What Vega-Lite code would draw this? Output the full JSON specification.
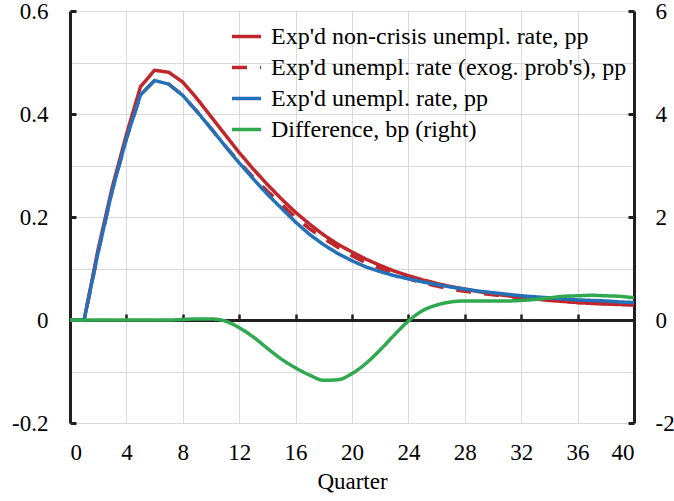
{
  "$schema": "https://vega.github.io/schema/vega-lite/v6.json",
  "width": 564,
  "height": 412,
  "autosize": {"type": "none"},
  "padding": {"left": 70, "top": 11, "right": 40, "bottom": 78},
  "background": "white",
  "config": {
    "font": "Liberation Serif",
    "view": {"stroke": null},
    "axis": {
      "labelFont": "Liberation Serif",
      "titleFont": "Liberation Serif",
      "labelColor": "#000000",
      "titleColor": "#000000",
      "labelFontSize": 23,
      "titleFontSize": 23,
      "titleFontWeight": "normal",
      "gridColor": "#d9d9d9",
      "gridWidth": 1,
      "domainColor": "#231f20",
      "tickColor": "#231f20"
    },
    "legend": {
      "orient": "none",
      "legendX": 160,
      "legendY": 9,
      "padding": 0,
      "title": null,
      "symbolType": "stroke",
      "symbolSize": 841,
      "symbolStrokeWidth": 3.5,
      "labelFont": "Liberation Serif",
      "labelFontSize": 24,
      "labelColor": "#000000",
      "labelOffset": 8,
      "labelLimit": 600,
      "rowPadding": 2
    }
  },
  "data": {
    "values": [
      {"q": 0, "nonCrisis": 0, "exog": 0, "expd": 0, "diff": 0},
      {"q": 1, "nonCrisis": 0, "exog": 0, "expd": 0, "diff": 0},
      {"q": 2, "nonCrisis": 0.138, "exog": 0.132, "expd": 0.132, "diff": 0},
      {"q": 3, "nonCrisis": 0.258, "exog": 0.252, "expd": 0.252, "diff": 0},
      {"q": 4, "nonCrisis": 0.36, "exog": 0.352, "expd": 0.352, "diff": 0},
      {"q": 5, "nonCrisis": 0.453, "exog": 0.437, "expd": 0.437, "diff": 0},
      {"q": 6, "nonCrisis": 0.485, "exog": 0.465, "expd": 0.465, "diff": 0},
      {"q": 7, "nonCrisis": 0.481, "exog": 0.458, "expd": 0.458, "diff": 0},
      {"q": 8, "nonCrisis": 0.462, "exog": 0.436, "expd": 0.436, "diff": 0.01},
      {"q": 9, "nonCrisis": 0.43, "exog": 0.405, "expd": 0.405, "diff": 0.02},
      {"q": 10, "nonCrisis": 0.395, "exog": 0.372, "expd": 0.372, "diff": 0.02},
      {"q": 11, "nonCrisis": 0.36, "exog": 0.338, "expd": 0.338, "diff": -0.02},
      {"q": 12, "nonCrisis": 0.325, "exog": 0.3065, "expd": 0.305, "diff": -0.15},
      {"q": 13, "nonCrisis": 0.293, "exog": 0.277, "expd": 0.274, "diff": -0.33},
      {"q": 14, "nonCrisis": 0.263, "exog": 0.25, "expd": 0.244, "diff": -0.55},
      {"q": 15, "nonCrisis": 0.235, "exog": 0.225, "expd": 0.217, "diff": -0.76},
      {"q": 16, "nonCrisis": 0.209, "exog": 0.199, "expd": 0.19, "diff": -0.93},
      {"q": 17, "nonCrisis": 0.186, "exog": 0.177, "expd": 0.166, "diff": -1.07},
      {"q": 18, "nonCrisis": 0.165, "exog": 0.158, "expd": 0.146, "diff": -1.17},
      {"q": 19, "nonCrisis": 0.147, "exog": 0.141, "expd": 0.129, "diff": -1.16},
      {"q": 20, "nonCrisis": 0.132, "exog": 0.125, "expd": 0.115, "diff": -1.04},
      {"q": 21, "nonCrisis": 0.118, "exog": 0.111, "expd": 0.103, "diff": -0.84},
      {"q": 22, "nonCrisis": 0.106, "exog": 0.1, "expd": 0.094, "diff": -0.58},
      {"q": 23, "nonCrisis": 0.095, "exog": 0.089, "expd": 0.086, "diff": -0.29},
      {"q": 24, "nonCrisis": 0.086, "exog": 0.08, "expd": 0.08, "diff": -0.02},
      {"q": 25, "nonCrisis": 0.078, "exog": 0.072, "expd": 0.074, "diff": 0.18},
      {"q": 26, "nonCrisis": 0.071, "exog": 0.066, "expd": 0.069, "diff": 0.29},
      {"q": 27, "nonCrisis": 0.065, "exog": 0.06, "expd": 0.064, "diff": 0.35},
      {"q": 28, "nonCrisis": 0.06, "exog": 0.056, "expd": 0.06, "diff": 0.37},
      {"q": 29, "nonCrisis": 0.055, "exog": 0.052, "expd": 0.056, "diff": 0.37},
      {"q": 30, "nonCrisis": 0.051, "exog": 0.049, "expd": 0.053, "diff": 0.37},
      {"q": 31, "nonCrisis": 0.047, "exog": 0.046, "expd": 0.05, "diff": 0.37},
      {"q": 32, "nonCrisis": 0.044, "exog": 0.043, "expd": 0.047, "diff": 0.38},
      {"q": 33, "nonCrisis": 0.041, "exog": 0.041, "expd": 0.045, "diff": 0.4},
      {"q": 34, "nonCrisis": 0.038, "exog": 0.039, "expd": 0.043, "diff": 0.43},
      {"q": 35, "nonCrisis": 0.036, "exog": 0.036, "expd": 0.041, "diff": 0.46},
      {"q": 36, "nonCrisis": 0.034, "exog": 0.034, "expd": 0.039, "diff": 0.47},
      {"q": 37, "nonCrisis": 0.032, "exog": 0.033, "expd": 0.038, "diff": 0.48},
      {"q": 38, "nonCrisis": 0.031, "exog": 0.032, "expd": 0.037, "diff": 0.47},
      {"q": 39, "nonCrisis": 0.03, "exog": 0.03, "expd": 0.035, "diff": 0.46},
      {"q": 40, "nonCrisis": 0.029, "exog": 0.03, "expd": 0.034, "diff": 0.43}
    ]
  },
  "transform": [
    {"fold": ["nonCrisis", "exog", "expd", "diff"], "as": ["s", "v"]}
  ],
  "layer": [
    {
      "transform": [{"filter": "datum.s != 'diff'"}],
      "mark": {"type": "line", "strokeWidth": 3.5, "strokeJoin": "round"},
      "encoding": {
        "x": {
          "field": "q",
          "type": "quantitative",
          "scale": {"domain": [0, 40], "nice": false, "zero": false},
          "axis": {
            "orient": "bottom",
            "values": [0, 4, 8, 12, 16, 20, 24, 28, 32, 36, 40],
            "grid": true,
            "domain": false,
            "ticks": false,
            "labelPadding": 18,
            "title": "Quarter",
            "titlePadding": 6
          }
        },
        "y": {
          "field": "v",
          "type": "quantitative",
          "scale": {"domain": [-0.2, 0.6], "nice": false, "zero": false},
          "axis": {
            "orient": "left",
            "values": [-0.2, -0.1, 0, 0.1, 0.2, 0.3, 0.4, 0.5, 0.6],
            "grid": true,
            "domain": true,
            "domainWidth": 3,
            "ticks": true,
            "tickSize": -6,
            "tickWidth": 3,
            "tickOpacity": {"condition": {"test": "abs(round(datum.value*10))%2==0", "value": 1}, "value": 0},
            "labelExpr": "abs(round(datum.value*10))%2==0 ? (abs(datum.value)<1e-9 ? '0' : (datum.value<0 ? '-' : '') + format(abs(datum.value), '.1f')) : ''",
            "labelPadding": 28,
            "title": null
          }
        },
        "color": {
          "field": "s",
          "type": "nominal",
          "scale": {
            "domain": ["nonCrisis", "exog", "expd", "diff"],
            "range": ["#c0272d", "#c0272d", "#2372b9", "#2fa84f"]
          },
          "legend": {
            "labelExpr": "datum.value=='nonCrisis' ? \"Exp'd non-crisis unempl. rate, pp\" : datum.value=='exog' ? \"Exp'd unempl. rate (exog. prob's), pp\" : datum.value=='expd' ? \"Exp'd unempl. rate, pp\" : 'Difference, bp (right)'"
          }
        },
        "strokeDash": {
          "field": "s",
          "type": "nominal",
          "scale": {
            "domain": ["nonCrisis", "exog", "expd", "diff"],
            "range": [[1, 0], [15, 13], [1, 0], [1, 0]]
          },
          "legend": {
            "labelExpr": "datum.value=='nonCrisis' ? \"Exp'd non-crisis unempl. rate, pp\" : datum.value=='exog' ? \"Exp'd unempl. rate (exog. prob's), pp\" : datum.value=='expd' ? \"Exp'd unempl. rate, pp\" : 'Difference, bp (right)'"
          }
        }
      }
    },
    {
      "transform": [{"filter": "datum.s == 'diff'"}],
      "mark": {"type": "line", "strokeWidth": 3.5, "interpolate": "monotone", "strokeJoin": "round"},
      "encoding": {
        "x": {
          "field": "q",
          "type": "quantitative",
          "scale": {"domain": [0, 40], "nice": false, "zero": false},
          "axis": {
            "orient": "top",
            "offset": -309,
            "values": [0, 4, 8, 12, 16, 20, 24, 28, 32, 36, 40],
            "grid": false,
            "domain": true,
            "domainWidth": 3,
            "ticks": true,
            "tickSize": 6,
            "tickWidth": 2.5,
            "labels": false,
            "title": null
          }
        },
        "y": {
          "field": "v",
          "type": "quantitative",
          "scale": {"domain": [-2, 6], "nice": false, "zero": false},
          "axis": {
            "orient": "right",
            "values": [-2, 0, 2, 4, 6],
            "grid": false,
            "domain": true,
            "domainWidth": 3,
            "ticks": true,
            "tickSize": -6,
            "tickWidth": 3,
            "labelExpr": "(datum.value<0 ? '-' : '') + format(abs(datum.value), 'd')",
            "labelPadding": 27,
            "title": null
          }
        },
        "color": {
          "field": "s",
          "type": "nominal",
          "scale": {
            "domain": ["nonCrisis", "exog", "expd", "diff"],
            "range": ["#c0272d", "#c0272d", "#2372b9", "#2fa84f"]
          }
        },
        "strokeDash": {
          "field": "s",
          "type": "nominal",
          "scale": {
            "domain": ["nonCrisis", "exog", "expd", "diff"],
            "range": [[1, 0], [15, 13], [1, 0], [1, 0]]
          }
        }
      }
    }
  ],
  "resolve": {
    "scale": {"y": "independent"},
    "axis": {"x": "independent", "y": "independent"}
  }
}
